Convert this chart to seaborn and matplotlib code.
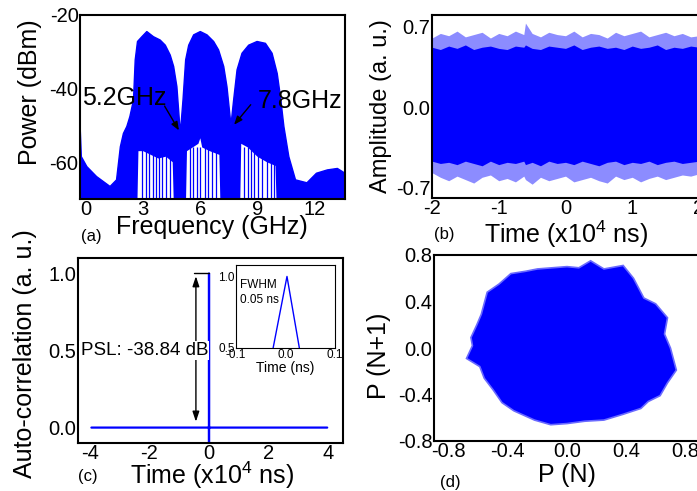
import numpy as np
import matplotlib
matplotlib.use("Agg")
import matplotlib.pyplot as plt
import seaborn as sns

sns.set_style("white")
plt.rcParams["font.family"] = ["Liberation Sans", "DejaVu Sans"]
plt.rcParams["mathtext.fontset"] = "custom"
plt.rcParams["mathtext.rm"] = "Liberation Sans"
plt.rcParams["axes.unicode_minus"] = False
plt.rcParams["text.color"] = "black"
plt.rcParams["axes.labelcolor"] = "black"

BLUE = "#0000ff"

# (a) RF spectrum: upper envelope, floor of the white gaps under the lobes
freq = [-0.32, -0.25, 0.04, 0.55, 1.26, 1.6, 1.8, 1.96, 2.14, 2.3, 2.49, 2.58, 2.70, 2.93, 3.19,
        3.54, 3.89, 4.16, 4.42, 4.60, 4.77, 4.95, 5.09, 5.23, 5.39, 5.65, 6.0, 6.35, 6.70, 6.96,
        7.23, 7.40, 7.61, 7.75, 7.93, 8.19, 8.54, 8.98, 9.42, 9.77, 10.04, 10.21, 10.39, 10.65,
        11.0, 11.6, 12.1, 12.67, 13.2, 13.6]
power_top = [-49.4, -58.5, -61.2, -63.9, -66.6, -64.8, -55.8, -52.2, -50.3, -47.6, -43.1, -32.2,
             -27.2, -25.9, -24.5, -25.9, -26.8, -28.2, -30.9, -34.0, -39.5, -52.2, -43.1, -32.2,
             -28.2, -25.4, -24.5, -25.4, -27.2, -29.5, -34.0, -39.5, -49.9, -43.1, -34.9, -30.4,
             -28.2, -27.2, -27.7, -30.4, -35.9, -42.2, -50.3, -58.5, -64.8, -65.6, -63.0, -62.1,
             -61.7, -63.0]
freq_floor = [-0.32, 2.7, 2.75, 3.0, 3.4, 3.8, 4.2, 4.55, 4.6, 5.25, 5.3, 5.6, 5.9, 6.0, 6.1,
              6.5, 7.0, 7.05, 8.1, 8.15, 8.5, 9.0, 9.5, 9.95, 10.0, 13.6]
power_floor = [-70, -70, -57, -57, -58, -59, -58.5, -60, -70, -70, -57, -56, -55, -53.5, -56,
               -57, -58, -70, -70, -55, -56, -58.5, -60, -61, -70, -70]
stroke_f = [2.95, 3.15, 3.3, 3.5, 3.65, 3.85, 4.0, 4.2, 4.4,
            5.45, 5.6, 5.8, 6.0, 6.25, 6.4, 6.6, 6.85,
            8.3, 8.5, 8.65, 8.8, 9.05, 9.25, 9.5, 9.7, 9.85]

# (b) time series envelope
t_b = [-2.0, -1.875, -1.75, -1.625, -1.5, -1.375, -1.25, -1.125, -1.0, -0.875, -0.75, -0.625,
       -0.6, -0.5, -0.375, -0.25, -0.125, 0.0, 0.125, 0.25, 0.375, 0.5, 0.625, 0.75, 0.875,
       1.0, 1.125, 1.25, 1.375, 1.5, 1.625, 1.75, 1.875, 2.0]
fringe_top = [0.60, 0.64, 0.62, 0.66, 0.61, 0.63, 0.65, 0.60, 0.64, 0.62, 0.66, 0.63, 0.73, 0.64,
              0.61, 0.65, 0.63, 0.62, 0.66, 0.61, 0.64, 0.63, 0.60, 0.65, 0.62, 0.64, 0.66, 0.61,
              0.63, 0.65, 0.62, 0.64, 0.61, 0.62]
fringe_bot = [-0.57, -0.61, -0.64, -0.60, -0.63, -0.66, -0.61, -0.59, -0.64, -0.62, -0.65, -0.60,
              -0.63, -0.67, -0.61, -0.64, -0.62, -0.60, -0.65, -0.63, -0.61, -0.64, -0.66, -0.60,
              -0.63, -0.61, -0.65, -0.62, -0.60, -0.63, -0.61, -0.59, -0.60, -0.58]
core_top = [0.52, 0.50, 0.53, 0.51, 0.54, 0.50, 0.52, 0.53, 0.51, 0.50, 0.53, 0.52, 0.54, 0.51,
            0.50, 0.53, 0.52, 0.51, 0.54, 0.50, 0.52, 0.53, 0.51, 0.52, 0.50, 0.53, 0.51, 0.52,
            0.54, 0.50, 0.52, 0.51, 0.53, 0.52]
core_bot = [-0.47, -0.49, -0.48, -0.50, -0.47, -0.49, -0.51, -0.47, -0.50, -0.48, -0.49, -0.47,
            -0.50, -0.48, -0.51, -0.47, -0.49, -0.48, -0.50, -0.47, -0.49, -0.51, -0.48, -0.47,
            -0.50, -0.48, -0.49, -0.47, -0.50, -0.48, -0.47, -0.49, -0.48, -0.47]

# (c) autocorrelation and the zoomed peak
acf_t = [-3.95, -0.001, 0.0, 0.0, 0.001, 3.97]
acf_v = [0.0, 0.0, -0.1, 1.0, 0.0, 0.0]
peak_t = [-0.025, 0.003, 0.028]
peak_v = [0.5, 1.0, 0.5]

# (d) return map outline
pn = [0.0, 0.08, 0.16, 0.25, 0.38, 0.45, 0.52, 0.60, 0.68, 0.66, 0.70, 0.74, 0.68, 0.63, 0.55, 0.50,
      0.38, 0.25, 0.12, 0.0, -0.11, -0.22, -0.36, -0.44, -0.50, -0.56, -0.59, -0.68, -0.64, -0.65,
      -0.61, -0.58, -0.54, -0.46, -0.38, -0.28, -0.20, -0.10]
pn1 = [0.70, 0.69, 0.75, 0.68, 0.71, 0.60, 0.43, 0.38, 0.26, 0.12, 0.0, -0.19, -0.30, -0.41, -0.46, -0.52,
       -0.57, -0.62, -0.63, -0.65, -0.66, -0.62, -0.54, -0.47, -0.36, -0.26, -0.16, -0.09, 0.02, 0.09,
       0.20, 0.29, 0.48, 0.55, 0.64, 0.66, 0.68, 0.69]

W, H = 697, 491


def box(l, t, r, b):
    return [l / W, 1 - b / H, (r - l) / W, (b - t) / H]


def style(ax, size=14.5, lw=1.5):
    for s in ax.spines.values():
        s.set_color("black")
        s.set_linewidth(lw)
    ax.tick_params(length=0, labelsize=size, colors="black")
    ax.tick_params(axis="x", pad=0.5)
    ax.tick_params(axis="y", pad=1)


def place(ax, pos, xlab, xl_px, ylab, yl_px, xsize=18, ysize=18):
    l, t, r, b = pos
    ax.set_xlabel(xlab, fontsize=xsize, va="center", ha="center")
    ax.xaxis.set_label_coords((xl_px[0] - l) / (r - l), (b - xl_px[1]) / (b - t))
    ax.set_ylabel(ylab, fontsize=ysize, va="center", ha="center")
    ax.yaxis.set_label_coords((yl_px[0] - l) / (r - l), (b - yl_px[1]) / (b - t))


fig = plt.figure(figsize=(6.97, 4.91), dpi=100)

# ---- (a)
pos_a = (80, 15, 345, 199)
ax = fig.add_axes(box(*pos_a))
ax.fill(np.r_[freq, freq_floor[::-1]], np.r_[power_top, power_floor[::-1]], color=BLUE, lw=0)
sns.lineplot(x=freq, y=power_top, color=BLUE, lw=1, estimator=None, sort=False, ax=ax)
ax.vlines(stroke_f, -70, -56, color=BLUE, lw=0.9)
arrow = dict(arrowstyle="-|>,head_length=0.5,head_width=0.2", color="black", lw=1)
ax.text(-0.2, -42.5, "5.2GHz", fontsize=18, va="center", ha="left")
ax.annotate("", xy=(4.95, -52), xytext=(4.05, -44.1), arrowprops=arrow)
ax.text(9.0, -43.3, "7.8GHz", fontsize=18, va="center", ha="left")
ax.annotate("", xy=(7.68, -50.4), xytext=(8.74, -43.8), arrowprops=arrow)
ax.set_xlim(-0.32, 13.6)
ax.set_ylim(-70, -20)
ax.set_xticks([0, 3, 6, 9, 12])
ax.set_yticks([-60, -40, -20])
style(ax)
place(ax, pos_a, "Frequency (GHz)", (212, 227), "Power (dBm)", (30, 92))

# ---- (b)
pos_b = (432, 15, 699, 198)
ax = fig.add_axes(box(*pos_b))
ax.fill_between(t_b, fringe_bot, fringe_top, color=BLUE, alpha=0.45, lw=0)
ax.fill_between(t_b, core_bot, core_top, color=BLUE, lw=0)
ax.set_xlim(-2, 2)
ax.set_ylim(-0.79, 0.8)
ax.set_xticks([-2, -1, 0, 1, 2])
ax.set_yticks([-0.7, 0, 0.7])
ax.set_yticklabels(["-0.7", "0.0", "0.7"])
style(ax)
place(ax, pos_b, r"Time (x10$^4$ ns)", (566, 234), "Amplitude (a. u.)", (381, 106), ysize=17)

# ---- (c)
pos_c = (78, 258, 343, 443)
ax = fig.add_axes(box(*pos_c))
sns.lineplot(x=acf_t, y=acf_v, color=BLUE, lw=1.6, estimator=None, sort=False, ax=ax)
ax.plot([-0.5, 0.0], [1.0, 1.0], color="black", lw=1)
ax.annotate("", xy=(-0.44, 1.0), xytext=(-0.44, 0.02), zorder=3,
            arrowprops=dict(arrowstyle="<|-|>,head_length=0.6,head_width=0.2", color="black", lw=1))
ax.text(-0.03, 0.5, "PSL: -38.84 dB", fontsize=13.5, ha="right", va="center", zorder=5,
        bbox=dict(facecolor="white", edgecolor="none", pad=1))
ax.set_xlim(-4.4, 4.5)
ax.set_ylim(-0.1, 1.1)
ax.set_xticks([-4, -2, 0, 2, 4])
ax.set_yticks([0, 0.5, 1.0])
ax.set_yticklabels(["0.0", "0.5", "1.0"])
style(ax)
place(ax, pos_c, r"Time (x10$^4$ ns)", (212, 475), "Auto-correlation (a. u.)", (25, 354))

# inset
ins = fig.add_axes(box(236, 265, 335, 348))
sns.lineplot(x=peak_t, y=peak_v, color=BLUE, lw=1, estimator=None, sort=False, ax=ins)
ins.text(-0.092, 0.98, "FWHM\n0.05 ns", fontsize=8.5, ha="left", va="top", linespacing=1.3)
ins.set_xlim(-0.1, 0.1)
ins.set_ylim(0.5, 1.08)
ins.set_xticks([-0.1, 0.0, 0.1])
ins.set_xticklabels(["-0.1", "0.0", "0.1"])
ins.set_yticks([0.5, 1.0])
ins.set_yticklabels(["0.5", "1.0"])
style(ins, size=8.5, lw=0.8)
ins.set_xlabel("Time (ns)", fontsize=10, labelpad=0)

# ---- (d)
pos_d = (434, 255, 700, 441)
ax = fig.add_axes(box(*pos_d))
ax.fill(pn, pn1, facecolor=BLUE, edgecolor="#6a6aff", lw=1.2)
ax.set_xlim(-0.9, 0.9)
ax.set_ylim(-0.8, 0.8)
ticks = [-0.8, -0.4, 0.0, 0.4, 0.8]
labels = ["-0.8", "-0.4", "0.0", "0.4", "0.8"]
ax.set_xticks(ticks)
ax.set_xticklabels(labels)
ax.set_yticks(ticks)
ax.set_yticklabels(labels)
style(ax)
place(ax, pos_d, "P (N)", (567, 475), "P (N+1)", (379, 356))

# panel tags
for tag, x, y in [("(a)", 91, 237), ("(b)", 444, 235), ("(c)", 88, 476), ("(d)", 450, 483)]:
    fig.text(x / W, 1 - y / H, tag, fontsize=12, ha="center", va="center")

fig.savefig("out.png", dpi=100)
